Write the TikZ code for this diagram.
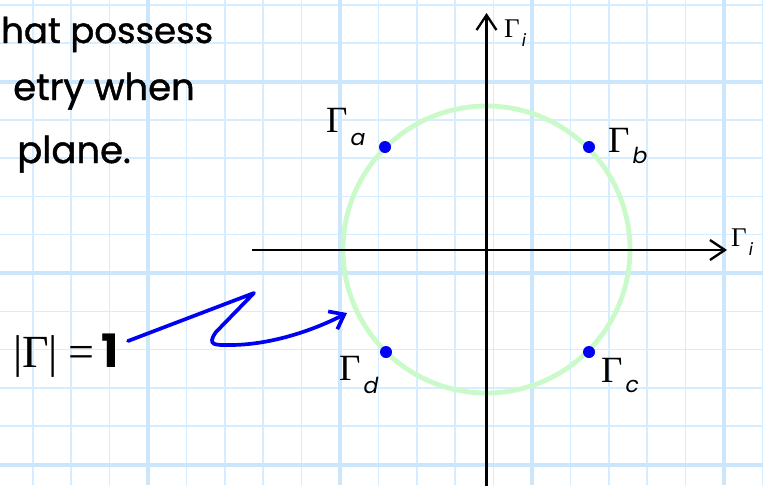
\documentclass[tikz,border=0pt]{standalone}
\usepackage{fontspec}
\usetikzlibrary{arrows.meta}
\newfontfamily\comic{Poppins}
\newfontfamily\comicthick[FakeBold=1.2]{Poppins}
\newfontfamily\tnr{Liberation Serif}
\definecolor{gridthin}{RGB}{214,236,255}
\definecolor{gridthick}{RGB}{204,231,252}
\definecolor{circgreen}{RGB}{202,250,202}
\definecolor{dotblue}{RGB}{0,0,245}
\tikzset{
  thinline/.style={draw=gridthin, line width=1.5pt},
  thickline/.style={draw=gridthick, line width=4pt},
  axis/.style={draw=black, line width=2.3pt, -{Straight Barb[length=15pt,width=20pt,line width=2.3pt]}},
  txt/.style={inner sep=0pt, font=\comicthick\fontsize{37}{44}\selectfont},
  glab/.style={inner sep=0pt, anchor=base west, font=\tnr\fontsize{37}{40}\selectfont},
  alab/.style={inner sep=0pt, anchor=base west, font=\tnr\fontsize{27}{30}\selectfont},
  pt/.style={circle, fill=dotblue, inner sep=0pt, minimum size=12pt},
}
\newcommand{\subl}[1]{{\comic\itshape\fontsize{22}{24}\selectfont #1}}
\newcommand{\subs}[1]{{\comic\itshape\fontsize{17}{18}\selectfont #1}}
\begin{document}
\begin{tikzpicture}[x=1pt,y=-1pt]
\useasboundingbox (0,0) rectangle (763,485);
\fill[white] (0,0) rectangle (763,485);
\clip (0,0) rectangle (763,485);
% grid
\foreach \x in {32.8,71.2,109.6,186.4,224.8,263.2,301.6,378.4,416.8,455.2,493.6,570.4,608.8,647.2,685.6,762.4}
  \path[thinline] (\x,0) -- (\x,485);
\foreach \y in {4.9,43.2,119.8,158.1,196.4,234.7,311.3,349.6,387.9,426.2}
  \path[thinline] (0,\y) -- (763,\y);
\foreach \x in {148,340,532,724}
  \path[thickline] (\x,0) -- (\x,485);
\foreach \y in {81.5,273,464.5}
  \path[thickline] (0,\y) -- (763,\y);
% text
\node[txt, anchor=base west, font=\comicthick\fontsize{35.5}{44}\selectfont] (t1) at (1,43) {hat possess};
\node[txt, anchor=base east] (t2) at (195,100) {etry when};
\node[txt, anchor=base east] (t3) at (131,163) {plane.};
% unit circle
\coordinate (O) at (486.5,249.5);
\draw[circgreen, line width=4.8pt] (O) circle[radius=143.5];
% axes
\coordinate (xs) at (252,250);
\coordinate (xe) at (727,250);
\coordinate (ys) at (486.5,490);
\coordinate (ye) at (486.5,13);
\draw[axis] (xs) -- (xe);
\draw[axis] (ys) -- (ye);
\node[alab] (lx) at (731,246) {Γ\hspace{2pt}\raisebox{-9pt}{\subs{i}}};
\node[alab] (ly) at (504,37) {Γ\hspace{2pt}\raisebox{-9pt}{\subs{i}}};
% points
\node[pt] (a) at (385,147) {};
\node[pt] (b) at (589,147) {};
\node[pt] (c) at (589,352) {};
\node[pt] (d) at (386,352) {};
\node[glab] (la) at (326,132) {Γ\hspace{3pt}\raisebox{-13pt}{\subl{a}}};
\node[glab] (lb) at (608,152) {Γ\hspace{3pt}\raisebox{-11pt}{\subl{b}}};
\node[glab] (lc) at (601,382) {Γ\hspace{3pt}\raisebox{-10pt}{\subl{c}}};
\node[glab] (ld) at (339,380) {Γ\hspace{3pt}\raisebox{-13pt}{\subl{d}}};
% |Gamma| = 1
\node[inner sep=0pt, anchor=base west] (eq) at (13,367)
  {\tnr\fontsize{46}{48}\selectfont |Γ|\hspace{10pt}=\hspace{7pt}{\comic\bfseries 1}};
\coordinate (as) at (128,341);
\coordinate (ae) at (347,313);
\draw[dotblue, line width=3.7pt, line cap=round, line join=round,
      -{Straight Barb[length=13pt,width=20pt,line width=3.7pt]}]
  (as) -- (254,293) -- (216,332) .. controls (206,346) and (216,345) .. (230,345)
  .. controls (268,345) and (310,332) .. (ae);
\end{tikzpicture}
\end{document}
